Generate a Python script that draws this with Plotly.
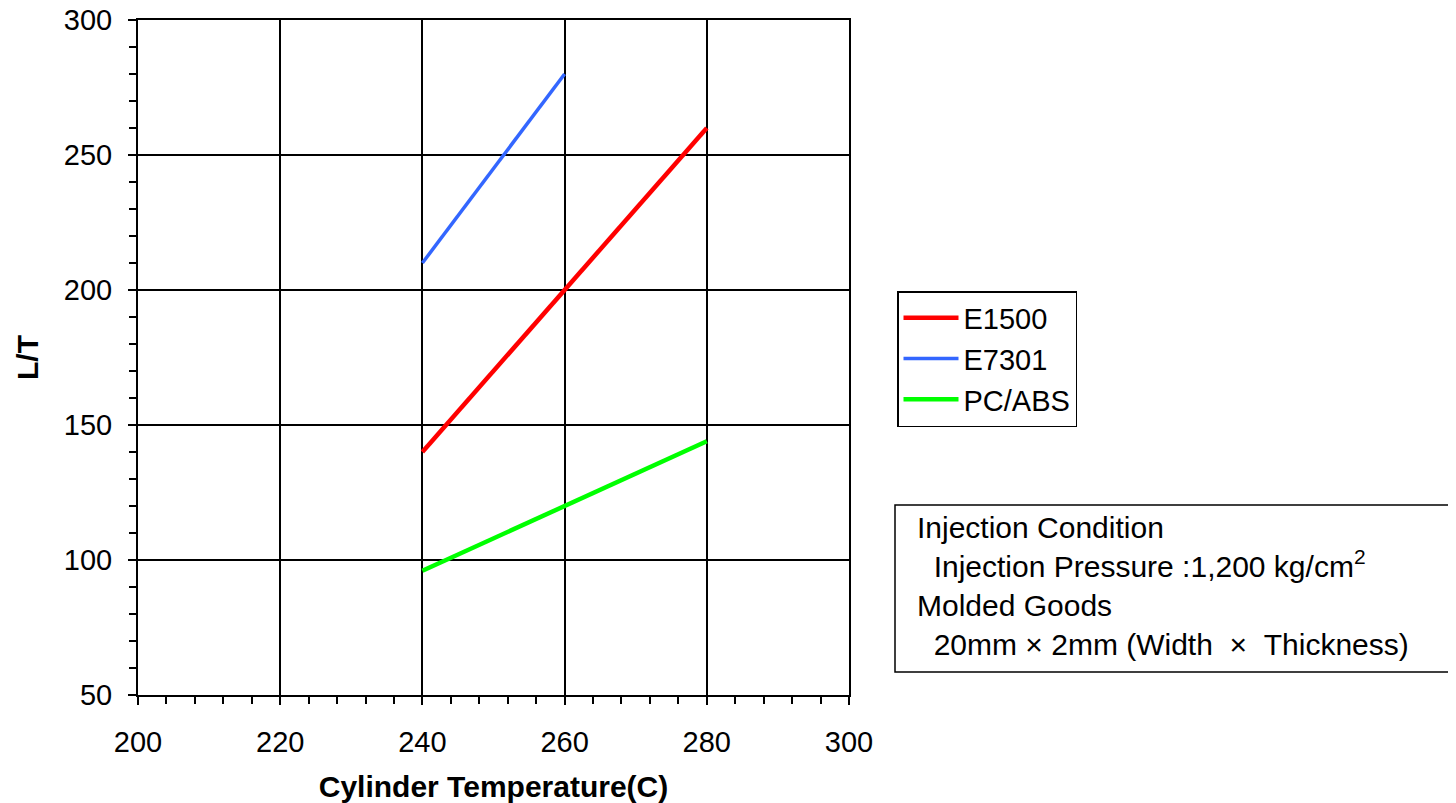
import plotly.graph_objects as go

# Data
temps_e1500 = [240, 260, 280]
lt_e1500 = [140, 200, 260]
temps_e7301 = [240, 260]
lt_e7301 = [210, 280]
temps_pcabs = [240, 260, 280]
lt_pcabs = [96, 120, 144]

series = [
    ("E1500", temps_e1500, lt_e1500, "#FF0000", 4.5),
    ("E7301", temps_e7301, lt_e7301, "#3366FF", 3.5),
    ("PC/ABS", temps_pcabs, lt_pcabs, "#00FF00", 4.5),
]

FONT = "Liberation Sans, Arial, sans-serif"

# page has an 8px body margin; figure coordinates = screen - 8
W, H = 1440, 795
L, R, T, B = 130, 1440 - 841, 12, 795 - 687
PW, PH = W - L - R, H - T - B


def px(xs):
    return (xs - 8 - L) / PW


def py(ys):
    return (H - B - (ys - 8)) / PH


fig = go.Figure()
for i, (name, xs, ys, color, w) in enumerate(series):
    fig.add_trace(go.Scatter(
        x=xs, y=ys, mode="lines", name=name,
        line=dict(color=color, width=w),
        legendgroup=f"g{i}",
    ))

axis_common = dict(
    showline=True, linecolor="black", linewidth=2, mirror=True,
    showgrid=True, gridcolor="black", gridwidth=1.5,
    ticks="outside", ticklen=8, tickwidth=2, tickcolor="black",
    tickfont=dict(family=FONT, size=29, color="black"),
    zeroline=False, ticklabeloverflow="allow",
)

fig.update_xaxes(
    range=[200, 300], dtick=20, tick0=200,
    minor=dict(dtick=4, ticks="outside", ticklen=7, tickwidth=2, tickcolor="black", showgrid=False),
    title=dict(text="<b>Cylinder Temperature(C)</b>", font=dict(family=FONT, size=30, color="black"), standoff=23),
    ticklabelstandoff=12,
    **axis_common,
)
fig.update_yaxes(
    range=[50, 300], dtick=50, tick0=50,
    minor=dict(dtick=10, ticks="outside", ticklen=7, tickwidth=2, tickcolor="black", showgrid=False),
    title=dict(text="<b>L/T</b>", font=dict(family=FONT, size=30, color="black"), standoff=16),
    ticklabelstandoff=10,
    **axis_common,
)

# Info box
fig.add_shape(type="rect", xref="paper", yref="paper",
              x0=px(895), x1=px(1452), y0=py(672), y1=py(505),
              line=dict(color="black", width=1.5), fillcolor="white", layer="below")

info_lines = [
    "Injection Condition",
    "\u00a0\u00a0Injection Pressure :1,200 kg/cm<sup>2</sup>",
    "Molded Goods",
    "\u00a0\u00a020mm\u00a0\u00d7\u00a02mm (Width\u00a0\u00a0\u00d7\u00a0\u00a0Thickness)",
]
fig.add_annotation(
    xref="paper", yref="paper", x=px(915), y=py(509),
    xanchor="left", yanchor="top", align="left", showarrow=False,
    text="<br>".join(info_lines),
    font=dict(family=FONT, size=30, color="black"),
)

fig.update_layout(
    width=W, height=H,
    margin=dict(l=L, r=R, t=T, b=B, autoexpand=False),
    paper_bgcolor="white", plot_bgcolor="white",
    showlegend=True,
    legend=dict(
        x=px(897), y=py(291), xanchor="left", yanchor="top",
        bordercolor="black", borderwidth=1.5, bgcolor="white",
        font=dict(family=FONT, size=29, color="black"),
        tracegroupgap=0, itemwidth=55,
    ),
)

fig.write_html("out.html")
